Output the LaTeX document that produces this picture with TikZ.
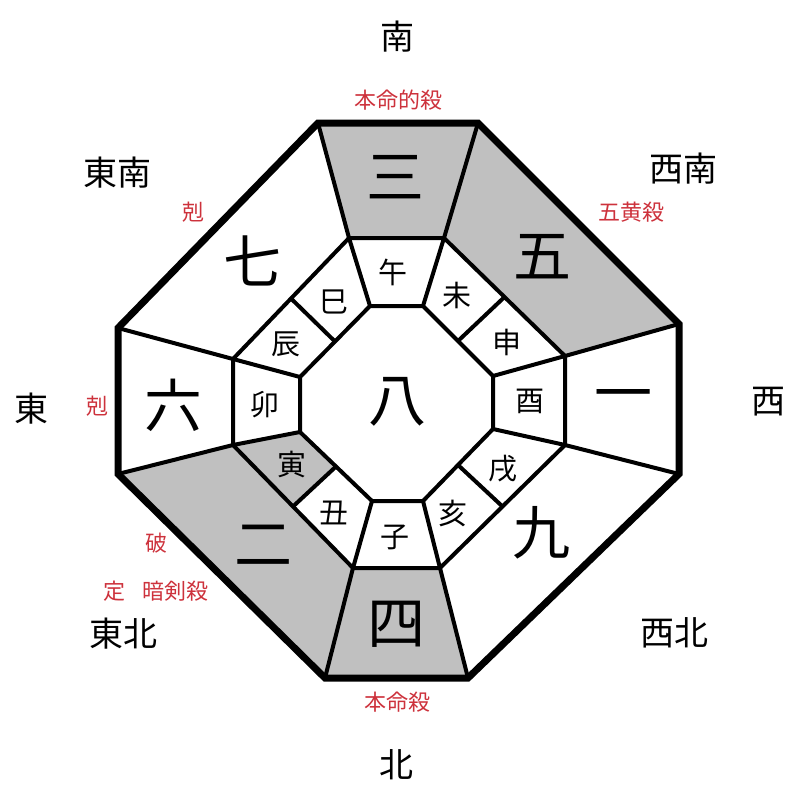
\documentclass[tikz,border=0pt]{standalone}
\usepackage{fontspec}
\setmainfont{Noto Sans CJK JP}
\usetikzlibrary{calc}
\definecolor{kred}{RGB}{205,50,60}
\definecolor{kgray}{RGB}{192,192,192}
\tikzset{
  kyusei/.style={inner sep=0pt, font=\fontsize{58}{58}\selectfont},
  eto/.style={inner sep=0pt, font=\fontsize{29}{29}\selectfont},
  houi/.style={inner sep=0pt, font=\fontsize{34}{34}\selectfont},
  kyou/.style={inner sep=0pt, text=kred, font=\fontsize{22}{22}\selectfont},
  waku/.style={line width=4pt},
}

\begin{document}
\begin{tikzpicture}[x=1pt,y=-1pt]
\useasboundingbox (0,0) rectangle (800,800);
% octagons: outer, middle, inner
\coordinate (o1) at (318,123); \coordinate (o2) at (478,123);
\coordinate (o3) at (679,324); \coordinate (o4) at (679,474);
\coordinate (o5) at (468,678); \coordinate (o6) at (325,678);
\coordinate (o7) at (118,474); \coordinate (o8) at (118,328);
\coordinate (m1) at (349,238); \coordinate (m2) at (444,238);
\coordinate (m3) at (565,356); \coordinate (m4) at (565,445);
\coordinate (m5) at (440,568); \coordinate (m6) at (353,568);
\coordinate (m7) at (233,445); \coordinate (m8) at (233,359);
\coordinate (i1) at (370,306); \coordinate (i2) at (423,306);
\coordinate (i3) at (493,376); \coordinate (i4) at (493,429);
\coordinate (i5) at (423,501); \coordinate (i6) at (372,501);
\coordinate (i7) at (300,432); \coordinate (i8) at (300,377);
% grey sectors
\fill[kgray] (o1) -- (o2) -- (m2) -- (m1) -- cycle;
\fill[kgray] (o2) -- (o3) -- (m3) -- (m2) -- cycle;
\fill[kgray] (m6) -- (m5) -- (o5) -- (o6) -- cycle;
\fill[kgray] (o6) -- (o7) -- (m7) -- (m6) -- cycle;
\fill[kgray] (m7) -- (i7) -- ($(i6)!.5!(i7)$) -- ($(m6)!.5!(m7)$) -- cycle;
\draw[waku] (m1) -- (m2) -- (m3) -- (m4) -- (m5) -- (m6) -- (m7) -- (m8) -- cycle;
\draw[waku] (i1) -- (i2) -- (i3) -- (i4) -- (i5) -- (i6) -- (i7) -- (i8) -- cycle;
\foreach \k in {1,...,8} \draw[waku] (o\k) -- (m\k) -- (i\k);
\foreach \a/\b in {2/3,4/5,6/7,8/1}
  \draw[waku] ($(i\a)!.5!(i\b)$) -- ($(m\a)!.5!(m\b)$);
\draw[line width=7pt] (o1) -- (o2) -- (o3) -- (o4) -- (o5) -- (o6) -- (o7) -- (o8) -- cycle;
% nine stars
\node[kyusei] (san) at (395,177) {三};
\node[kyusei] (go) at (542,257) {五};
\node[kyusei] (ichi) at (623,402) {一};
\node[kyusei] (kyu) at (541,533) {九};
\node[kyusei] (yon) at (396,624) {四};
\node[kyusei] (ni) at (263,545) {二};
\node[kyusei] (roku) at (173,405) {六};
\node[kyusei] (nana) at (252,261) {七};
\node[kyusei] (hachi) at (397,402) {八};
% twelve branches
\foreach \t/\x/\y [count=\n] in {午/393/272,未/457/295,申/507/342,酉/530/401,
    戌/503/469,亥/453/513,子/395/537,丑/334/513,寅/292/465,卯/265/405,辰/286/344,巳/334/302}
  \node[eto] (eto\n) at (\x,\y) {\t};
% directions
\node[houi] (minami) at (397,37) {南};
\node[houi] (tounan) at (117,173) {東南};
\node[houi] (seinan) at (683,169) {西南};
\node[houi] (higashi) at (31,409) {東};
\node[houi] (nishi) at (768,402) {西};
\node[houi] (touhoku) at (123,634) {東北};
\node[houi] (seihoku) at (674,633) {西北};
\node[houi] (kita) at (396,765) {北};
% red marks
\node[kyou] (honmeiteki) at (398,100) {本命的殺};
\node[kyou] (gooh) at (631,212) {五黄殺};
\node[kyou] (koku1) at (193,212) {剋};
\node[kyou] (koku2) at (97,406) {剋};
\node[kyou] (ha) at (156,543) {破};
\node[kyou] (tei) at (114,591) {定};
\node[kyou] (anken) at (175,591) {暗剣殺};
\node[kyou] (honmei) at (397,702) {本命殺};
\end{tikzpicture}
\end{document}
